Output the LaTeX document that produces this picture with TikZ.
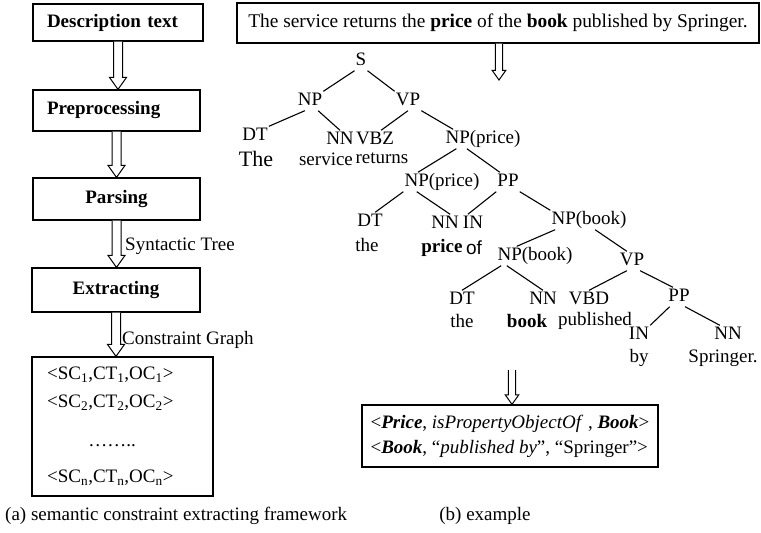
\documentclass[tikz,border=0pt]{standalone}
\usepackage{fontspec}
\setmainfont{Liberation Serif}
\newfontfamily\arialfont{Liberation Sans}
\usetikzlibrary{calc}

% hollow block arrow, drawn straight down from #2 to #3
\newcommand{\blockarrow}[3][1]{%
    \draw[line width=1pt, fill=white] let \p1=(#2), \p2=(#3) in
        (\x1-#1*4.5pt,\y1) -- (\x1-#1*4.5pt,\y2+#1*12pt) -- (\x1-#1*8.5pt,\y2+#1*12pt)
        -- (\x1,\y2) -- (\x1+#1*8.5pt,\y2+#1*12pt) -- (\x1+#1*4.5pt,\y2+#1*12pt)
        -- (\x1+#1*4.5pt,\y1);
}

\begin{document}
\begin{tikzpicture}[x=1pt, y=-1pt,
    every node/.style={font=\fontsize{19}{23}\selectfont},
    box/.style={draw, line width=1.2pt},
    stage/.style={box, inner xsep=14pt},
    tag/.style={inner sep=1pt, text height=13pt, text depth=4pt},
    word/.style={inner sep=0pt},
    branch/.style={line width=1.1pt}]
    \useasboundingbox (0,0) rectangle (761,533);

    % Framework steps
    \node[stage, minimum height=37pt, text width=142pt, align=left] (desc) at (118,22.5) {\textbf{Description text}};
    \node[stage, minimum height=41pt, text width=139pt, align=left] (prep) at (116.5,110.5) {\textbf{Preprocessing}};
    \node[stage, minimum height=42pt, text width=139pt, align=center] (pars) at (116.5,199) {\textbf{Parsing}};
    \node[stage, minimum height=44pt, text width=140pt, align=center] (extr) at (116,290) {\textbf{Extracting}};
    \node[box, minimum width=181pt, minimum height=139pt] (tuples) at (122.5,426.5) {};

    % Constraint tuples
    \node[anchor=west, inner sep=1pt] (tupA) at (46,375) {<SC\textsubscript{1},CT\textsubscript{1},OC\textsubscript{1}>};
    \node[anchor=west, inner sep=1pt] (tupB) at (46,403) {<SC\textsubscript{2},CT\textsubscript{2},OC\textsubscript{2}>};
    \node (tupDots) at (112,446) {……..};
    \node[anchor=west, inner sep=1pt] (tupN) at (46,478) {<SC\textsubscript{n},CT\textsubscript{n},OC\textsubscript{n}>};

    % Arrows between steps
    \blockarrow{desc.south}{prep.north}
    \blockarrow{prep.south}{pars.north}
    \blockarrow{pars.south}{extr.north}
    \blockarrow{extr.south}{tuples.north}
    \node[anchor=west, inner sep=1pt] (synLabel) at (124,246) {Syntactic Tree};
    \node[anchor=west, inner sep=1pt] (graphLabel) at (121,340) {Constraint Graph};

    % Example sentence
    \node[box, minimum width=522pt, minimum height=40pt, inner xsep=4pt,
        font=\fontsize{19.4}{23}\selectfont] (sentence) at (498,23)
        {The service returns the \textbf{price} of the \textbf{book} published by Springer.};
    \coordinate (treetop) at (499,80);
    \blockarrow[0.8]{sentence.south -| treetop}{treetop}

    % Parse tree labels
    \node[tag] (s) at (361,61) {S};
    \node[tag] (np) at (310,101) {NP};
    \node[tag] (vp) at (408,101) {VP};
    \node[tag] (dtA) at (255,136) {DT};
    \node[tag] (nnA) at (340,140) {NN};
    \node[tag] (vbz) at (375,140) {VBZ};
    \node[tag] (npPrice) at (483,139) {NP(price)};
    \node[tag] (npPriceB) at (442,182) {NP(price)};
    \node[tag] (pp) at (508,182) {PP};
    \node[tag] (dtB) at (370,222) {DT};
    \node[tag] (nnB) at (445,224) {NN};
    \node[tag] (inA) at (473,224) {IN};
    \node[tag] (npBook) at (589,220) {NP(book)};
    \node[tag] (npBookB) at (535,256) {NP(book)};
    \node[tag] (vpB) at (632,261) {VP};
    \node[tag] (dtC) at (462,300) {DT};
    \node[tag] (nnC) at (543,300) {NN};
    \node[tag] (vbd) at (589,300) {VBD};
    \node[tag] (ppB) at (679,297) {PP};
    \node[tag] (inB) at (639,335) {IN};
    \node[tag] (nnD) at (728,335) {NN};

    % Words under the labels
    \node[word, font=\fontsize{22}{26}\selectfont] (wThe) at (256,159) {The};
    \node[word] (wService) at (326,159) {service};
    \node[word] (wReturns) at (382,158) {returns};
    \node[word] (wTheB) at (367,245) {the};
    \node[word] (wPrice) at (442,248) {\textbf{price}};
    \node[word, font=\fontsize{19}{23}\arialfont] (wOf) at (474,248) {of};
    \node[word] (wTheC) at (462,321) {the};
    \node[word] (wBook) at (527,321) {\textbf{book}};
    \node[word] (wPublished) at (595,321) {published};
    \node[word] (wBy) at (639,358) {by};
    \node[word] (wSpringer) at (723,358) {Springer.};

    % Branches
    \draw[branch] (s.south west) -- (np.north east);
    \draw[branch] (s.south east) -- (vp.north west);
    \draw[branch] (np.-118) -- (dtA.north east);
    \draw[branch] (np.-50) -- (nnA.north);
    \draw[branch] (vp.south) -- (vbz.58);
    \draw[branch] (vp.south east) -- (npPrice.162);
    \draw[branch] (npPrice.-160) -- (npPriceB.158);
    \draw[branch] (npPrice.-149) -- (pp.130);
    \draw[branch] (npPriceB.south west) -- (dtB.62);
    \draw[branch] (npPriceB.-159) -- (nnB.62);
    \draw[branch] (pp.south west) -- (inA.118);
    \draw[branch] (pp.south east) -- (npBook.north west);
    \draw[branch] (npBook.-164) -- (npBookB.152);
    \draw[branch] (npBook.-58) -- (vpB.118);
    \draw[branch] (npBookB.-164) -- (dtC.north);
    \draw[branch] (npBookB.-161) -- (nnC.north);
    \draw[branch] (vpB.-118) -- (vbd.north);
    \draw[branch] (vpB.-50) -- (ppB.122);
    \draw[branch] (ppB.-134) -- (inB.north east);
    \draw[branch] (ppB.-58) -- (nnD.130);

    % Extracted constraints
    \coordinate (treeend) at (512,370);
    \node[box, align=left, inner xsep=6pt, minimum width=296pt, minimum height=62pt,
        font=\fontsize{19}{25}\selectfont] (triples) at (510,436)
        {<\textbf{\textit{Price}}, \textit{isPropertyObjectOf} , \textbf{\textit{Book}}>\\
         <\textbf{\textit{Book}}, “\textit{published by}”, “Springer”>};
    \blockarrow[0.8]{treeend}{triples.north -| treeend}

    % Captions
    \node[anchor=west, inner sep=0pt] (capA) at (5,516) {(a) semantic constraint extracting framework};
    \node[inner sep=0pt] (capB) at (485,516) {(b) example};
\end{tikzpicture}
\end{document}
